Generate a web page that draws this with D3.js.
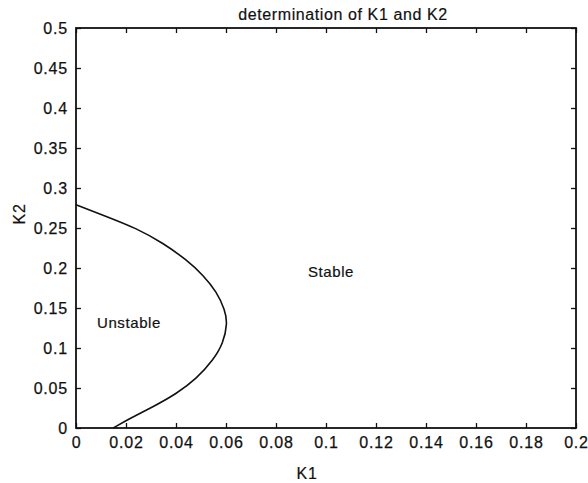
<!DOCTYPE html>
<html>
<head>
<meta charset="utf-8">
<script src="https://cdn.jsdelivr.net/npm/d3@7"></script>
<style>
  body { margin: 0; background: #fff; }
  text { font-family: "Liberation Sans", Arial, sans-serif; fill: #111; }
</style>
</head>
<body>
<svg id="chart" width="588" height="483"></svg>
<script>
// boundary curve
const k1 = [0, 0.0109, 0.0243, 0.0349, 0.0443, 0.0509, 0.0563, 0.0596, 0.0606, 0.0589, 0.0549, 0.0483, 0.0403, 0.0309, 0.0216, 0.0149]
const k2 = [0.279, 0.266, 0.2496, 0.231, 0.210, 0.191, 0.170, 0.1475, 0.131, 0.106, 0.085, 0.062, 0.043, 0.0266, 0.012, 0]
const xTicks = [0, 0.02, 0.04, 0.06, 0.08, 0.1, 0.12, 0.14, 0.16, 0.18, 0.2]
const yTicks = [0, 0.05, 0.1, 0.15, 0.2, 0.25, 0.3, 0.35, 0.4, 0.45, 0.5]

const margin = { top: 28, right: 12, bottom: 55, left: 76 }
const W = 588, H = 483
const innerW = W - margin.left - margin.right
const innerH = H - margin.top - margin.bottom

const svg = d3.select('#chart')
const g = svg.append('g').attr('transform', `translate(${margin.left},${margin.top})`)

const x = d3.scaleLinear().domain([0, 0.2]).range([0, innerW])
const y = d3.scaleLinear().domain([0, 0.5]).range([innerH, 0])

const fmt = d => (d === 0 ? '0' : String(+d.toFixed(2)))

// 坐标轴 (ticks pointing inward, like matlab)
const styleAxis = sel => {
  sel.select('.domain').remove()
  sel.selectAll('line').attr('stroke', '#111').attr('stroke-width', 1.3)
  sel.selectAll('text').attr('font-size', 16).attr('letter-spacing', 0.8)
    .attr('fill', '#111').attr('stroke', '#111').attr('stroke-width', 0.25)
}
g.append('g').attr('transform', `translate(0,${innerH})`)
  .call(d3.axisBottom(x).tickValues(xTicks).tickFormat(fmt).tickSizeInner(-5).tickSizeOuter(0).tickPadding(9))
  .call(styleAxis)
g.append('g')
  .call(d3.axisLeft(y).tickValues(yTicks).tickFormat(fmt).tickSizeInner(-5).tickSizeOuter(0).tickPadding(8))
  .call(styleAxis)
g.append('g')
  .call(d3.axisTop(x).tickValues(xTicks).tickFormat('').tickSizeInner(-5).tickSizeOuter(0))
  .call(styleAxis)
g.append('g').attr('transform', `translate(${innerW},0)`)
  .call(d3.axisRight(y).tickValues(yTicks).tickFormat('').tickSizeInner(-5).tickSizeOuter(0))
  .call(styleAxis)

// box
g.append('rect').attr('width', innerW).attr('height', innerH)
  .attr('fill', 'none').attr('stroke', '#111').attr('stroke-width', 1.8)

// curve (basis spline smooths out reading jitter)
const pts = k1.map((v, i) => [v, k2[i]])
g.append('path').datum(pts)
  .attr('fill', 'none').attr('stroke', '#111').attr('stroke-width', 1.6)
  .attr('d', d3.line().x(d => x(d[0])).y(d => y(d[1])).curve(d3.curveBasis))

// region labels
const label = (txt, px, py, size) =>
  svg.append('text').attr('x', px).attr('y', py).attr('dy', '0.35em')
    .attr('text-anchor', 'middle').attr('font-size', size).attr('letter-spacing', 0.6)
    .attr('stroke', '#111').attr('stroke-width', 0.2).text(txt)

label('Unstable', margin.left + x(0.0212), margin.top + y(0.131), 15)
label('Stable', margin.left + x(0.102), margin.top + y(0.195), 15)

// title and axis labels
label('determination of K1 and K2', 343, 14, 16)
label('K1', 307, 473, 16)
svg.append('text').attr('transform', `translate(19,214) rotate(-90)`).attr('dy', '0.35em')
  .attr('text-anchor', 'middle').attr('font-size', 16).attr('letter-spacing', 0.6)
  .attr('stroke', '#111').attr('stroke-width', 0.2).text('K2')
</script>
</body>
</html>
